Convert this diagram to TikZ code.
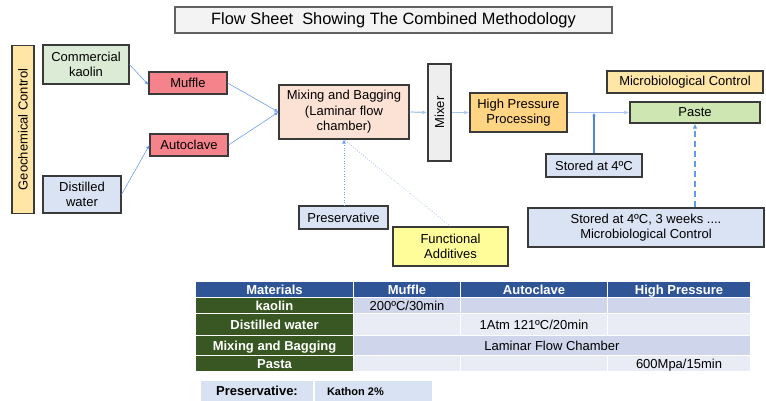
\documentclass[tikz,border=0pt]{standalone}
\usepackage{fontspec}
\setmainfont{Liberation Sans}
\usetikzlibrary{arrows.meta}

\definecolor{edge}{HTML}{3A3A3A}
\definecolor{titlefill}{HTML}{F3F3F3}
\definecolor{ctrlfill}{HTML}{FFE5A6}
\definecolor{kaolinfill}{HTML}{DCEBD5}
\definecolor{bluefill}{HTML}{DAE3F3}
\definecolor{heatfill}{HTML}{F4838B}
\definecolor{mixfill}{HTML}{FCE2D4}
\definecolor{mixerfill}{HTML}{EEEEEE}
\definecolor{hppfill}{HTML}{FFD584}
\definecolor{pastefill}{HTML}{CDE6B2}
\definecolor{addfill}{HTML}{FFFD99}
\definecolor{flow}{HTML}{6D9EEB}
\definecolor{flowlight}{HTML}{A9C6F2}
\definecolor{flowdark}{HTML}{4A86E8}
\definecolor{headfill}{HTML}{2F5597}
\definecolor{matfill}{HTML}{385723}
\definecolor{rowdark}{HTML}{CFD5EA}
\definecolor{rowlight}{HTML}{E9EBF5}
\definecolor{presfill}{HTML}{D9E2F3}

\newcommand{\nodefont}{\fontsize{13}{15.5}\selectfont}

\tikzset{
  box/.style={draw=edge, line width=1.1pt, inner sep=0pt, align=center, font=\nodefont},
  thinflow/.style={draw=flow, line width=0.6pt, -{Latex[length=4pt,width=3.5pt]}},
  mainflow/.style={draw=flowlight, line width=1.2pt, -{Latex[length=4.5pt,width=4pt]}, shorten >=0.5pt},
  dotflow/.style={draw=flow, line width=0.6pt, dotted},
  cell/.style={draw=white, line width=1.3pt, inner sep=0pt, align=center, font=\nodefont,
               text height=9.8pt, text depth=0pt},
  headcell/.style={cell, fill=headfill, text=white, font=\nodefont\bfseries},
  matcell/.style={cell, fill=matfill, text=white, font=\nodefont\bfseries},
}

\begin{document}
\begin{tikzpicture}[x=1pt, y=-1pt]
\useasboundingbox (0,0) rectangle (766,401);

% ---------- flow sheet ----------
\node[box, draw=edge!80, fill=titlefill, minimum width=437pt, minimum height=26pt,
      font=\fontsize{16.4}{19}\selectfont] (title) at (393.5,20)
      {Flow Sheet\ \ Showing The Combined Methodology};

\node[box, fill=ctrlfill, rotate=90, minimum width=168pt, minimum height=22pt]
      (geo) at (23,129.5) {Geochemical Control};

\node[box, fill=kaolinfill, minimum width=86pt, minimum height=39pt] (kaolin) at (86,64.5)
      {Commercial\\kaolin};
\node[box, fill=bluefill, minimum width=78pt, minimum height=37pt] (water) at (82,194.5)
      {Distilled\\water};

\node[box, fill=heatfill, minimum width=78pt, minimum height=22pt] (muffle) at (188,83) {Muffle};
\node[box, fill=heatfill, minimum width=78pt, minimum height=22pt] (autoclave) at (189,145) {Autoclave};

\node[box, fill=mixfill, minimum width=130pt, minimum height=54pt] (mixing) at (344,112)
      {Mixing and Bagging\\(Laminar flow\\chamber)};

\node[box, fill=mixerfill, rotate=90, minimum width=97pt, minimum height=23pt]
      (mixer) at (439.5,112.5) {Mixer};

\node[box, fill=hppfill, minimum width=97pt, minimum height=39pt] (hpp) at (518.5,112.5)
      {High Pressure\\Processing};

\node[box, fill=ctrlfill, minimum width=156pt, minimum height=22pt] (micro) at (685,82)
      {Microbiological Control};
\node[box, fill=pastefill, minimum width=130pt, minimum height=21pt] (paste) at (695,112.5) {Paste};

\node[box, fill=bluefill, minimum width=96pt, minimum height=23pt] (stored) at (594,165.5)
      {Stored at 4ºC};
\node[box, fill=bluefill, minimum width=236pt, minimum height=39pt] (stored3) at (646,227.5)
      {Stored at 4ºC, 3 weeks ....\\Microbiological Control};

\node[box, fill=bluefill, minimum width=89pt, minimum height=23pt] (pres) at (343.5,217.5)
      {Preservative};
\node[box, fill=addfill, minimum width=115pt, minimum height=39pt] (additives) at (450.5,246.5)
      {Functional\\Additives};

% connectors
\draw[thinflow] (kaolin.east) -- ([yshift=-2pt]muffle.west);
\draw[thinflow] (water.east) -- (autoclave.west);
\draw[thinflow] (muffle.east) -- (mixing.west);
\draw[thinflow] (autoclave.east) -- (mixing.west);
\draw[mainflow] (mixing.east) -- (mixer.north);
\draw[mainflow] (mixer.south) -- (hpp.west);
\draw[mainflow] (hpp.east) -- (paste.west);
\coordinate (join) at (stored.north |- hpp.east);
\draw[draw=flowdark, line width=1.2pt, -{Latex[length=4pt,width=3.5pt]}] (stored.north) -- (join);
\draw[draw=flowdark!85, line width=2pt, dash pattern=on 6pt off 4pt,
      -{Latex[length=5pt,width=4.5pt]}] (stored3.north -| paste.south) -- (paste.south);
\draw[dotflow, -{Latex[length=4pt,width=4pt]}] (pres.north -| mixing.south) -- (mixing.south);
\draw[dotflow] (additives.north) -- (mixing.south);

% ---------- process table ----------
\node[headcell, minimum width=158pt, minimum height=16pt] (hMat) at (274.5,289.5) {Materials};
\node[headcell, minimum width=107pt, minimum height=16pt] (hMuf) at (407,289.5) {Muffle};
\node[headcell, minimum width=147pt, minimum height=16pt] (hAut) at (534,289.5) {Autoclave};
\node[headcell, minimum width=143pt, minimum height=16pt] (hHP) at (679,289.5) {High Pressure};

\node[matcell, minimum width=158pt, minimum height=16pt] (mKao) at (274.5,305.5) {kaolin};
\node[cell, fill=rowdark, minimum width=107pt, minimum height=16pt] (kMuf) at (407,305.5) {200ºC/30min};
\node[cell, fill=rowdark, minimum width=147pt, minimum height=16pt] (kAut) at (534,305.5) {};
\node[cell, fill=rowdark, minimum width=143pt, minimum height=16pt] (kHP) at (679,305.5) {};

\node[matcell, minimum width=158pt, minimum height=21.75pt] (mWat) at (274.5,324.4) {Distilled water};
\node[cell, fill=rowlight, minimum width=107pt, minimum height=21.75pt] (wMuf) at (407,324.4) {};
\node[cell, fill=rowlight, minimum width=147pt, minimum height=21.75pt] (wAut) at (534,324.4) {1Atm 121ºC/20min};
\node[cell, fill=rowlight, minimum width=143pt, minimum height=21.75pt] (wHP) at (679,324.4) {};

\node[matcell, minimum width=158pt, minimum height=20.5pt] (mMix) at (274.5,345.5) {Mixing and Bagging};
\node[cell, fill=rowdark, minimum width=397pt, minimum height=20.5pt] (xAll) at (552,345.5) {Laminar Flow Chamber};

\node[matcell, minimum width=158pt, minimum height=15.75pt] (mPas) at (274.5,363.6) {Pasta};
\node[cell, fill=rowlight, minimum width=107pt, minimum height=15.75pt] (pMuf) at (407,363.6) {};
\node[cell, fill=rowlight, minimum width=147pt, minimum height=15.75pt] (pAut) at (534,363.6) {};
\node[cell, fill=rowlight, minimum width=143pt, minimum height=15.75pt] (pHP) at (679,363.6) {600Mpa/15min};

% preservative note
\node[cell, fill=presfill, minimum width=114pt, minimum height=22pt, font=\nodefont\bfseries]
      (presLbl) at (257,391) {Preservative:};
\node[cell, fill=presfill, minimum height=22pt, text height=8.3pt,
      font=\fontsize{11}{13}\selectfont\bfseries] (presVal) at (373.25,391)
      {\makebox[118.5pt][l]{\hspace{13pt}Kathon 2\%}};

\end{tikzpicture}
\end{document}
